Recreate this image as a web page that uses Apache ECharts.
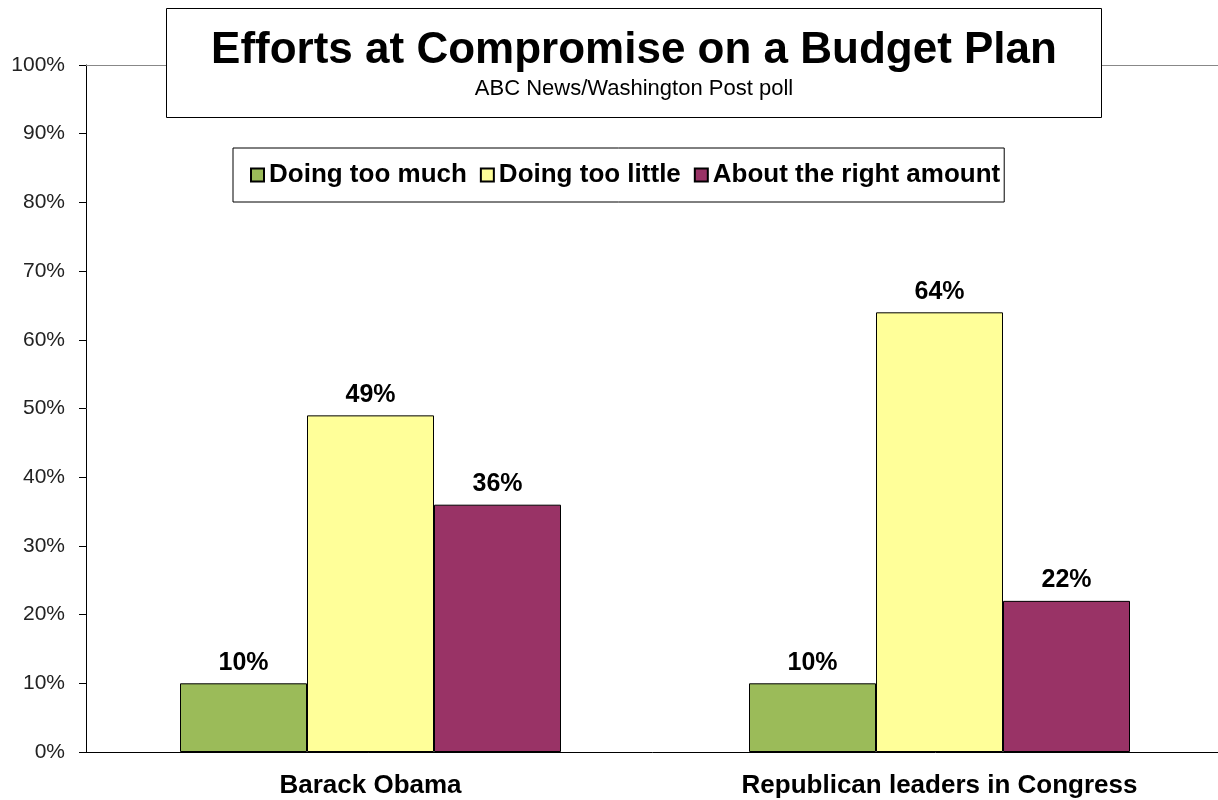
<!DOCTYPE html>
<html lang="en">
<head>
    <meta charset="UTF-8">
    <title>Efforts at Compromise on a Budget Plan</title>
    <script src="https://cdn.jsdelivr.net/npm/echarts@6/dist/echarts.min.js"></script>
    <style>
        body, html {
            margin: 0;
            padding: 0;
            background-color: #ffffff;
        }
        #chart {
            width: 1218px;
            height: 800px;
        }
    </style>
</head>
<body>
    <div id="chart"></div>

    <script>
        // poll data, percent
        const categories = ['Barack Obama', 'Republican leaders in Congress'];
        const seriesNames = ['Doing too much', 'Doing too little', 'About the right amount'];
        const tooMuch = [10, 10];
        const tooLittle = [49, 64];
        const rightAmount = [36, 22];
        const seriesColors = ['#9BBB59', '#FFFF99', '#993366'];

        const font = "Arial, 'Liberation Sans', sans-serif";

        function makeBar(name, values, color, extra) {
            return Object.assign({
                name: name,
                type: 'bar',
                data: values,
                barWidth: 127,
                barGap: '0%',
                itemStyle: { color: color, borderColor: '#000', borderWidth: 1 },
                label: {
                    show: true,
                    position: 'top',
                    distance: 8,
                    formatter: '{c}%',
                    fontFamily: font,
                    fontSize: 25,
                    fontWeight: 'bold',
                    color: '#000'
                }
            }, extra || {});
        }

        const chart = echarts.init(document.getElementById('chart'));
        chart.setOption({
            backgroundColor: '#ffffff',
            animation: false,
            title: {
                text: 'Efforts at Compromise on a Budget Plan',
                subtext: 'ABC News/Washington Post poll',
                left: 589,
                top: 8,
                textAlign: 'center',
                padding: [21, 45, 18, 45],
                itemGap: 5,
                backgroundColor: '#ffffff',
                borderColor: '#000',
                borderWidth: 1,
                textStyle: { fontFamily: font, fontSize: 44, fontWeight: 'bold', color: '#000' },
                subtextStyle: { fontFamily: font, fontSize: 22, color: '#000' }
            },
            legend: {
                data: seriesNames,
                left: 233,
                top: 148,
                padding: [14, 4, 14, 17],
                itemGap: 13,
                itemWidth: 13,
                itemHeight: 13,
                backgroundColor: '#ffffff',
                borderColor: '#000',
                borderWidth: 1,
                icon: 'rect',
                textStyle: { fontFamily: font, fontSize: 26, fontWeight: 'bold', color: '#000' }
            },
            grid: { left: 86, width: 1138, top: 65, bottom: 48, outerBoundsMode: 'none' },
            xAxis: {
                type: 'category',
                data: categories,
                axisLine: { lineStyle: { color: '#000', width: 1 } },
                axisTick: { length: 7, lineStyle: { color: '#000' } },
                axisLabel: {
                    margin: 21,
                    fontFamily: font,
                    fontSize: 26,
                    fontWeight: 'bold',
                    color: '#000'
                }
            },
            yAxis: {
                type: 'value',
                min: 0,
                max: 100,
                interval: 10,
                axisLine: { show: true, lineStyle: { color: '#000', width: 1 } },
                axisTick: { show: true, length: 7, lineStyle: { color: '#000' } },
                splitLine: { show: false },
                axisLabel: {
                    margin: 21,
                    formatter: '{value}%',
                    fontFamily: font,
                    fontSize: 21,
                    color: '#222'
                }
            },
            series: [
                makeBar(seriesNames[0], tooMuch, seriesColors[0], {
                    markLine: {
                        silent: true,
                        symbol: 'none',
                        label: { show: false },
                        lineStyle: { color: '#888', type: 'solid', width: 1 },
                        data: [{ yAxis: 100 }]
                    }
                }),
                makeBar(seriesNames[1], tooLittle, seriesColors[1]),
                makeBar(seriesNames[2], rightAmount, seriesColors[2])
            ]
        });
    </script>
</body>
</html>
